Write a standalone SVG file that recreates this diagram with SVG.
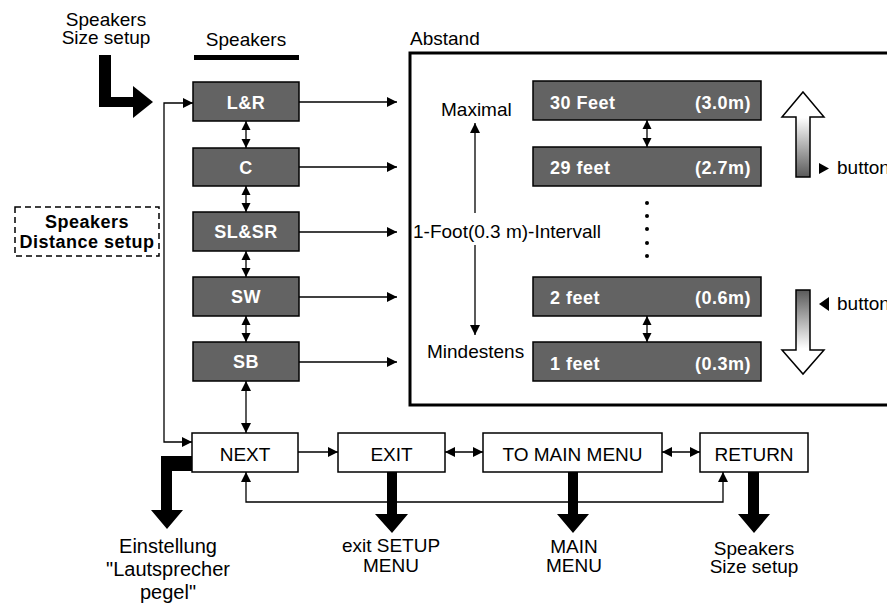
<svg xmlns="http://www.w3.org/2000/svg" width="887" height="605" viewBox="0 0 887 605">
<defs>
<style>
text{font-family:"Liberation Sans",Arial,Helvetica,sans-serif;fill:#000}
.t{font-size:19px}
.big{font-size:20px}
.c{text-anchor:middle}
.b{font-weight:bold;font-size:18px;letter-spacing:0.5px}
.w{fill:#fff}
.dk{fill:#636363;stroke:#000;stroke-width:1.5}
.wb{fill:#fff;stroke:#000;stroke-width:1.5}
.ln{fill:none;stroke:#000;stroke-width:1.3}
.s1{marker-end:url(#a)}
.s2{marker-start:url(#a);marker-end:url(#a)}
.d2{marker-start:url(#b);marker-end:url(#b)}
.thick{fill:#000}
</style>
<marker id="a" viewBox="0 0 10 10" refX="10" refY="5" markerWidth="10" markerHeight="11" markerUnits="userSpaceOnUse" orient="auto-start-reverse"><path d="M0,0L10,5L0,10z"/></marker>
<marker id="b" viewBox="0 0 10 10" refX="10" refY="5" markerWidth="9" markerHeight="11" markerUnits="userSpaceOnUse" orient="auto-start-reverse"><path d="M0,0L10,5L0,10z"/></marker>
<linearGradient id="gUp" x1="0" y1="0" x2="0" y2="1"><stop offset="0.3" stop-color="#fff"/><stop offset="1" stop-color="#5a5a5a"/></linearGradient>
<linearGradient id="gDn" x1="0" y1="0" x2="0" y2="1"><stop offset="0" stop-color="#5a5a5a"/><stop offset="0.7" stop-color="#fff"/></linearGradient>
</defs>

<g id="labels-top">
<text class="t c" x="106" y="26">Speakers</text>
<text class="t c" x="106" y="44">Size setup</text>
<polygon class="thick" points="99,55 111,55 111,97 133,97 133,86 153,102 133,118 133,107 99,107"/>
<text class="t c" x="246" y="46">Speakers</text>
<rect x="194" y="55" width="105" height="5" fill="#000"/>
<text class="t" x="410" y="45">Abstand</text>
</g>

<g id="distance-setup">
<rect x="15" y="207" width="144" height="49" fill="none" stroke="#000" stroke-width="1.5" stroke-dasharray="6,4"/>
<text class="b c" x="87" y="228">Speakers</text>
<text class="b c" x="87" y="248">Distance setup</text>
</g>

<g id="node-LR"><rect class="dk" x="193" y="82" width="106" height="39"/><text class="b c w" x="246" y="109">L&amp;R</text></g>
<g id="node-C"><rect class="dk" x="193" y="148" width="106" height="38"/><text class="b c w" x="246" y="174">C</text></g>
<g id="node-SLSR"><rect class="dk" x="193" y="212" width="106" height="39"/><text class="b c w" x="246" y="238">SL&amp;SR</text></g>
<g id="node-SW"><rect class="dk" x="193" y="277" width="106" height="39"/><text class="b c w" x="246" y="303">SW</text></g>
<g id="node-SB"><rect class="dk" x="193" y="342" width="106" height="39"/><text class="b c w" x="246" y="368">SB</text></g>

<g id="panel">
<rect x="410" y="53" width="490" height="352" fill="none" stroke="#000" stroke-width="3"/>
<text class="t" x="441" y="116">Maximal</text>
<text class="t" x="413" y="238">1-Foot(0.3 m)-Intervall</text>
<text class="t" x="427" y="358">Mindestens</text>
<circle cx="647" cy="203" r="2"/><circle cx="647" cy="216" r="2"/><circle cx="647" cy="229" r="2"/><circle cx="647" cy="243" r="2"/><circle cx="647" cy="256" r="2"/>
<polygon points="803,92 824,117 810,117 810,177 796,177 796,117 782,117" fill="url(#gUp)" stroke="#000" stroke-width="1.5"/>
<polygon points="796,290 810,290 810,350 824,350 803,374 782,350 796,350" fill="url(#gDn)" stroke="#000" stroke-width="1.5"/>
<polygon points="819,163 829,168.5 819,174"/>
<text class="t" x="837" y="174">button</text>
<polygon points="829,297 819,304 829,311"/>
<text class="t" x="837" y="310">button</text>
</g>

<g id="val-30"><rect class="dk" x="533" y="81" width="228" height="39"/><text class="b w" x="550" y="109">30 Feet</text><text class="b w" x="751" y="109" text-anchor="end">(3.0m)</text></g>
<g id="val-29"><rect class="dk" x="533" y="147" width="228" height="39"/><text class="b w" x="550" y="174">29 feet</text><text class="b w" x="751" y="174" text-anchor="end">(2.7m)</text></g>
<g id="val-2"><rect class="dk" x="533" y="277" width="228" height="39"/><text class="b w" x="550" y="304">2 feet</text><text class="b w" x="751" y="304" text-anchor="end">(0.6m)</text></g>
<g id="val-1"><rect class="dk" x="533" y="342" width="228" height="39"/><text class="b w" x="550" y="370">1 feet</text><text class="b w" x="751" y="370" text-anchor="end">(0.3m)</text></g>

<g id="node-NEXT"><rect class="wb" x="192" y="433" width="106" height="39"/><text class="t c" x="245" y="461">NEXT</text></g>
<g id="node-EXIT"><rect class="wb" x="338" y="433" width="107" height="39"/><text class="t c" x="391.5" y="461">EXIT</text></g>
<g id="node-TMM"><rect class="wb" x="483" y="433" width="179" height="39"/><text class="t c" x="572.5" y="461">TO MAIN MENU</text></g>
<g id="node-RETURN"><rect class="wb" x="700" y="433" width="108" height="39"/><text class="t c" x="754" y="461">RETURN</text></g>

<g id="outputs">
<polygon class="thick" points="192,456 161,456 161,510 151,510 167,529 183,510 172,510 172,471 192,471"/>
<text class="big c" x="168" y="553">Einstellung</text>
<text class="big c" x="168" y="576">"Lautsprecher</text>
<text class="big c" x="168" y="599">pegel"</text>
<polygon class="thick" points="387,472 397,472 397,514 408,514 392,533 375,514 387,514"/>
<text class="t c" x="391" y="552">exit SETUP</text>
<text class="t c" x="391" y="572">MENU</text>
<polygon class="thick" points="568,472 578,472 578,514 589,514 573,533 557,514 568,514"/>
<text class="t c" x="574" y="553">MAIN</text>
<text class="t c" x="574" y="572">MENU</text>
<polygon class="thick" points="748,472 759,472 759,514 770,514 754,533 738,514 748,514"/>
<text class="t c" x="754" y="555">Speakers</text>
<text class="t c" x="754" y="573">Size setup</text>
</g>

<g id="connectors">
<path class="ln s1" d="M299,102H397"/>
<path class="ln s1" d="M299,167H397"/>
<path class="ln s1" d="M299,232H397"/>
<path class="ln s1" d="M299,297H397"/>
<path class="ln s1" d="M299,362H397"/>
<path class="ln d2" d="M246,121V148"/>
<path class="ln d2" d="M246,186V212"/>
<path class="ln d2" d="M246,251V277"/>
<path class="ln d2" d="M246,316V342"/>
<path class="ln s2" d="M246,381V433"/>
<path class="ln s2" d="M193,103H164V442H192"/>
<path class="ln s1" d="M298,452H338"/>
<path class="ln s2" d="M445,452H483"/>
<path class="ln s2" d="M662,452H700"/>
<path class="ln s2" d="M246,472V502H723V472"/>
<path class="ln d2" d="M647,120V147"/>
<path class="ln d2" d="M647,316V342"/>
<path class="ln s1" d="M475,213V123"/>
<path class="ln s1" d="M475,245V335"/>
</g>
</svg>
